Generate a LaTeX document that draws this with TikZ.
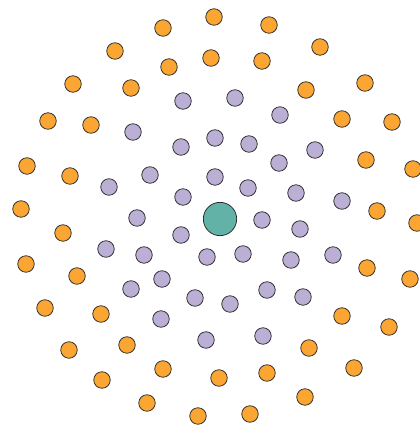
\documentclass[tikz,border=0pt]{standalone}
\definecolor{dotorange}{HTML}{FBA533}
\definecolor{dotpurple}{HTML}{BCAFD6}
\definecolor{dotteal}{HTML}{62B2A8}
\tikzset{
  dot/.style={circle,draw=black!85,line width=0.55pt,inner sep=0pt,minimum size=12.4pt},
  outerdot/.style={dot,fill=dotorange},
  innerdot/.style={dot,fill=dotpurple},
  hubdot/.style={dot,fill=dotteal,minimum size=25pt}
}
\begin{document}
\begin{tikzpicture}[x=0.75pt,y=-0.75pt]
\useasboundingbox (0,0) rectangle (420,428);

\node[hubdot] (hub) at (220,219) {};

% inner ring
\foreach \p [count=\i] in {(183,101),(235,98),(133,132),(280,115),(215,138),(181,147),
  (249,144),(315,150),(109,187),(150,175),(215,177),(279,163),(248,188),(296,193),
  (342,201),(183,197),(137,218),(262,220),(300,229),(181,235),(106,249),(144,255),
  (207,257),(243,254),(291,260),(333,255),(162,279),(131,289),(195,298),(230,304),
  (267,290),(303,297),(161,319),(206,340),(263,336)}
  \node[innerdot] (in\i) at \p {};

% outer ring
\foreach \p [count=\i] in {(214,17),(163,28),(269,25),(115,51),(320,47),(211,58),
  (169,67),(262,61),(73,84),(365,83),(131,88),(306,90),(48,121),(91,125),(342,119),
  (392,122),(27,166),(70,176),(366,160),(413,169),(21,209),(377,211),(417,223),
  (63,233),(26,264),(77,276),(367,268),(410,279),(45,308),(101,314),(342,316),
  (389,327),(69,350),(127,345),(309,348),(354,368),(102,380),(163,369),(219,378),
  (267,373),(147,403),(198,416),(250,414),(305,397)}
  \node[outerdot] (out\i) at \p {};
\end{tikzpicture}
\end{document}
